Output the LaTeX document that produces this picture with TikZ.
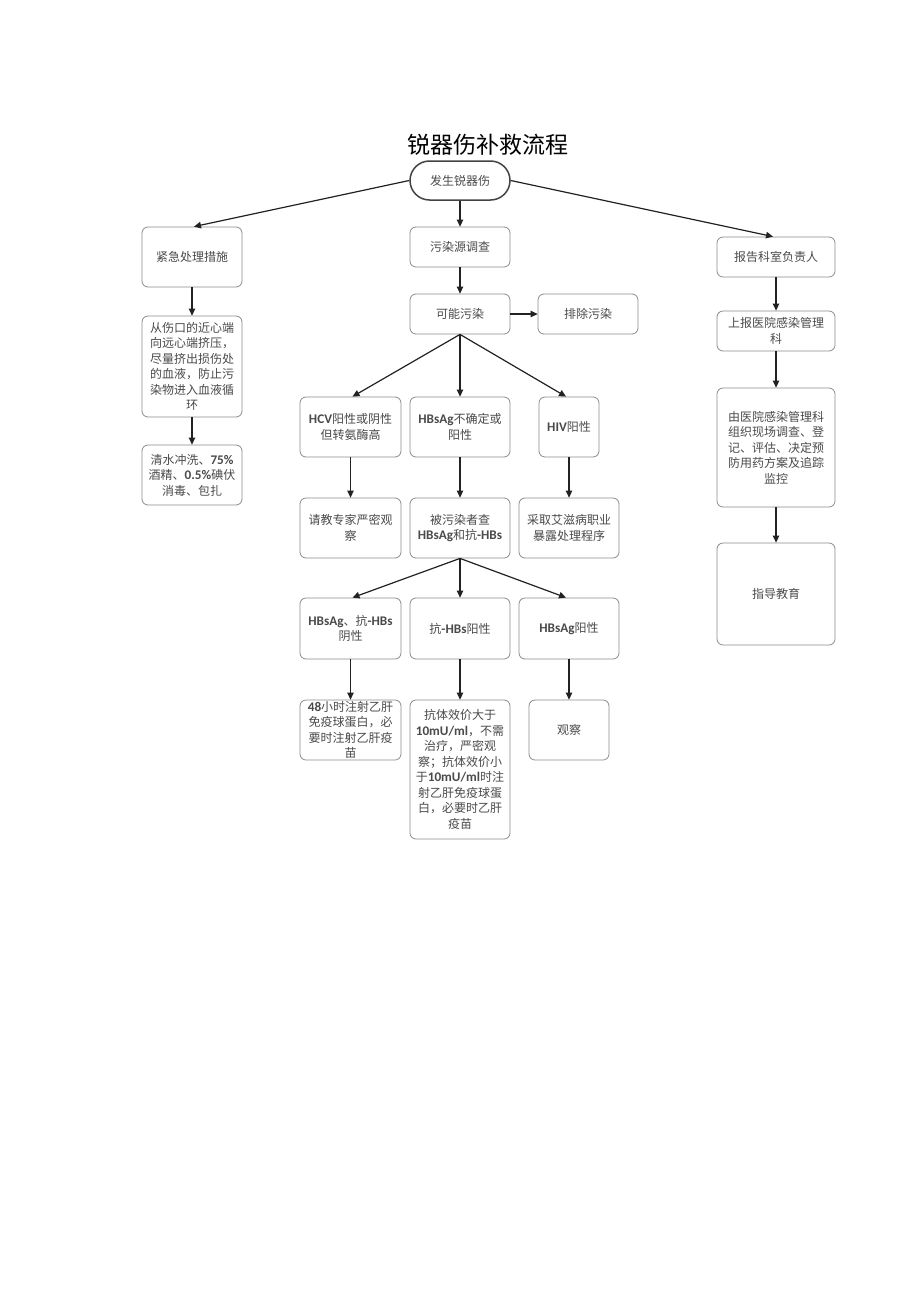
\documentclass[tikz,border=0pt]{standalone}
\usepackage{fontspec}
\setmainfont{Noto Sans CJK SC}
\newfontfamily\latf{Carlito}[Scale=1.1]
\newcommand\lbf[1]{{\latf\bfseries #1}}
\usetikzlibrary{arrows.meta}
\definecolor{boxgray}{HTML}{8C8C8C}
\definecolor{txtgray}{HTML}{4A4A4A}
\definecolor{arrowc}{HTML}{222222}
\begin{document}
\begin{tikzpicture}[x=1pt,y=-1pt,
  box/.style={draw=boxgray, line width=0.8pt, rounded corners=6pt, align=center,
    font=\fontsize{12}{15.5}\selectfont, text=txtgray, inner sep=0pt},
  startbox/.style={draw=arrowc!85, line width=1.5pt, rounded corners=19.5pt, align=center,
    font=\fontsize{12}{15.5}\selectfont, text=txtgray, inner sep=0pt,
    minimum width=100pt, minimum height=39pt},
  arr/.style={draw=arrowc, line width=1.2pt, -{Triangle[length=7pt,width=6.5pt]}}]
\useasboundingbox[fill=white] (0,0) rectangle (920,1301);

\node[font=\fontsize{23}{26}\selectfont, text=black] (title) at (488,145) {锐器伤补救流程};

\node[startbox] (start) at (460,180.5) {发生锐器伤};

% left column
\node[box, minimum width=100pt, minimum height=60pt] (emerg) at (192,257) {紧急处理措施};
\node[box, minimum width=100pt, minimum height=101pt] (squeeze) at (192,366.5)
  {从伤口的近心端\\向远心端挤压，\\尽量挤出损伤处\\的血液，防止污\\染物进入血液循\\环};
\node[box, minimum width=100pt, minimum height=60pt] (wash) at (192,475)
  {清水冲洗、\lbf{75\%}\\酒精、\lbf{0.5\%}碘伏\\消毒、包扎};

% middle column
\node[box, minimum width=100pt, minimum height=40pt] (src) at (460,247) {污染源调查};
\node[box, minimum width=100pt, minimum height=40pt] (poss) at (460,314) {可能污染};
\node[box, minimum width=100pt, minimum height=40pt] (excl) at (588,314) {排除污染};

\node[box, minimum width=101pt, minimum height=60pt] (hcv) at (350.5,427)
  {\lbf{HCV}阳性或阴性\\但转氨酶高};
\node[box, minimum width=100pt, minimum height=60pt] (hbs) at (460,427)
  {\lbf{HBsAg}不确定或\\阳性};
\node[box, minimum width=60pt, minimum height=60pt] (hiv) at (569,427)
  {\lbf{HIV}阳性};

\node[box, minimum width=101pt, minimum height=60pt] (expert) at (350.5,528)
  {请教专家严密观\\察};
\node[box, minimum width=100pt, minimum height=60pt] (check) at (460,528)
  {被污染者查\\\lbf{HBsAg}和抗\lbf{-HBs}};
\node[box, minimum width=100pt, minimum height=60pt] (aids) at (569,528)
  {采取艾滋病职业\\暴露处理程序};

\node[box, minimum width=101pt, minimum height=61pt] (neg) at (350.5,628.5)
  {\lbf{HBsAg}、抗\lbf{-HBs}\\阴性};
\node[box, minimum width=100pt, minimum height=61pt] (antipos) at (460,628.5)
  {抗\lbf{-HBs}阳性};
\node[box, minimum width=100pt, minimum height=61pt] (agpos) at (569,628.5)
  {\lbf{HBsAg}阳性};

\node[box, minimum width=101pt, minimum height=60pt] (inj) at (350.5,730)
  {\lbf{48}小时注射乙肝\\免疫球蛋白，必\\要时注射乙肝疫\\苗};
\node[box, minimum width=100pt, minimum height=139pt] (titer) at (460,769.5)
  {抗体效价大于\\\lbf{10mU/ml}，不需\\治疗，严密观\\察；抗体效价小\\于\lbf{10mU/ml}时注\\射乙肝免疫球蛋\\白，必要时乙肝\\疫苗};
\node[box, minimum width=80pt, minimum height=60pt] (obs) at (569,730) {观察};

% right column
\node[box, minimum width=118pt, minimum height=40pt] (report) at (776,257) {报告科室负责人};
\node[box, minimum width=118pt, minimum height=40pt] (upr) at (776,331) {上报医院感染管理\\科};
\node[box, minimum width=118pt, minimum height=119pt] (org) at (776,447.5)
  {由医院感染管理科\\组织现场调查、登\\记、评估、决定预\\防用药方案及追踪\\监控};
\node[box, minimum width=118pt, minimum height=102pt] (edu) at (776,594) {指导教育};

% connectors
\draw[arr] (start.west) -- ([xshift=2pt]emerg.north);
\draw[arr] (start.east) -- ([xshift=-3pt]report.north);
\draw[arr] (start.south) -- (src.north);
\draw[arr] (src.south) -- (poss.north);
\draw[arr] (poss.east) -- (excl.west);
\draw[arr] (poss.south) -- ([xshift=2pt]hcv.north);
\draw[arr] (poss.south) -- (hbs.north);
\draw[arr] (poss.south) -- ([xshift=-3pt]hiv.north);
\draw[arr] (emerg.south) -- (squeeze.north);
\draw[arr] (squeeze.south) -- (wash.north);
\draw[arr] (hcv.south) -- (expert.north);
\draw[arr] (hbs.south) -- (check.north);
\draw[arr] (hiv.south) -- (aids.north);
\draw[arr] (check.south) -- ([xshift=2pt]neg.north);
\draw[arr] (check.south) -- (antipos.north);
\draw[arr] (check.south) -- ([xshift=-3pt]agpos.north);
\draw[arr] (neg.south) -- (inj.north);
\draw[arr] (antipos.south) -- (titer.north);
\draw[arr] (agpos.south) -- (obs.north);
\draw[arr] (report.south) -- (upr.north);
\draw[arr] (upr.south) -- (org.north);
\draw[arr] (org.south) -- (edu.north);
\end{tikzpicture}
\end{document}
